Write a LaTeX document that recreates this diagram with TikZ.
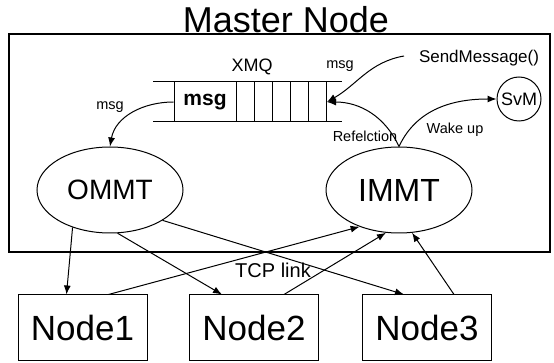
\documentclass[tikz,border=0pt]{standalone}
\usepackage{fontspec}
\setmainfont{Liberation Sans}
\usetikzlibrary{arrows.meta, shapes.geometric}

\begin{document}
\begin{tikzpicture}[x=1pt, y=-1pt,
    > = {Latex[length=9pt, width=7pt]},
    every path/.style = {line width=1pt},
    lbl/.style = {inner sep=0pt, font=\fontsize{14.5}{14.5}\selectfont},
    mmt/.style = {draw, ellipse, minimum width=146pt, minimum height=86pt, inner sep=0pt},
    slave/.style = {draw, minimum width=129pt, minimum height=65pt, inner sep=0pt,
        font=\fontsize{35}{35}\selectfont},
    link/.style = {->}]
    \def\qt{82}
    \def\qb{122}
    \useasboundingbox (0, 0) rectangle (554, 363);
    % Master node
    \node [inner sep=0pt, font=\fontsize{36}{36}\selectfont] (title) at (286, 19.5) {Master Node};
    \draw [line width=1.3pt] (9, 34) rectangle (550, 252);
    %% Queue
    \draw (153, \qt) -- (342, \qt)
          (153, \qb) -- (342, \qb);
    \node [draw, minimum width=62pt, minimum height=40pt, inner sep=0pt,
        font=\bfseries\fontsize{21}{21}\selectfont] (msgbox) at (205, 102) {msg};
    \foreach \x in {254, 272, 290, 308, 326}
        \draw (\x, \qt) -- (\x, \qb);
    \coordinate (qend) at (327, 102);
    \node [lbl, font=\fontsize{18}{18}\selectfont] (xmq) at (252, 67) {XMQ};
    %% Threads
    \node [mmt, font=\fontsize{28}{28}\selectfont] (OMMT) at (110, 190) {OMMT};
    \node [mmt, font=\fontsize{32}{32}\selectfont] (IMMT) at (399, 190) {IMMT};
    \node [draw, circle, minimum size=44pt, inner sep=0pt,
        font=\fontsize{18}{18}\selectfont] (SvM) at (519, 99) {SvM};
    %% Annotations
    \node [lbl] (msgout) at (110, 107) {msg};
    \node [lbl] (msgin) at (340, 66) {msg};
    \node [lbl, font=\fontsize{17}{17}\selectfont] (send) at (479, 58) {SendMessage()};
    \coordinate (sendstart) at (404, 56);
    \node [lbl] (refl) at (365, 136) {Refelction};
    \node [lbl] (wake) at (455, 130) {Wake up};
    %% Local arrows
    \draw [->] (msgbox.west) to [out=180, in=80] (OMMT.north);
    \draw [->] (sendstart) to [out=190, in=30] (qend);
    \draw [->] (IMMT.north) to [out=115, in=0] (qend);
    \draw [->] (IMMT.north) to [out=65, in=180] (SvM.west);

    % Slave nodes
    \node [slave] (Node1) at (82.5, 327.5) {Node1};
    \node [slave] (Node2) at (254, 327.5) {Node2};
    \node [slave] (Node3) at (427, 327.5) {Node3};
    \node [lbl, font=\fontsize{20}{20}\selectfont] (tcp) at (273, 270) {TCP link};
    %% TCP links
    \draw [link] (OMMT.225) -- ([xshift=-16pt]Node1.north);
    \draw [link] (OMMT.280) -- ([xshift=-32pt]Node2.north);
    \draw [link] (OMMT.330) -- ([xshift=-23pt]Node3.north);
    \draw [link] ([xshift=26pt]Node1.north) -- (IMMT.223);
    \draw [link] ([xshift=30pt]Node2.north) -- (IMMT.253);
    \draw [link] ([xshift=27pt]Node3.north) -- (IMMT.287);
\end{tikzpicture}
\end{document}
